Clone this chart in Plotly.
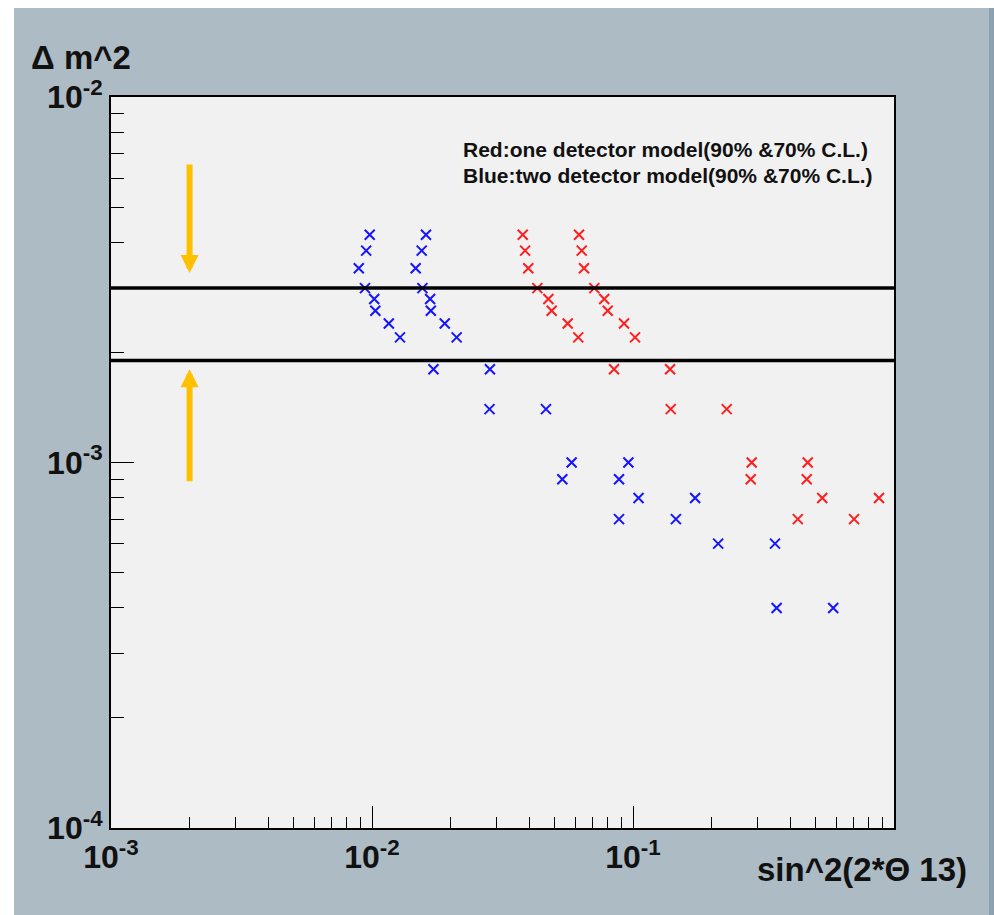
import math
import plotly.graph_objects as go

# Delta m^2 levels (eV^2) at which the sensitivity limits were evaluated
blue_dm2 = [4.2e-3, 3.8e-3, 3.4e-3, 3.0e-3, 2.8e-3, 2.6e-3, 2.4e-3, 2.2e-3,
            1.8e-3, 1.4e-3, 1.0e-3, 9e-4, 8e-4, 7e-4, 6e-4, 4e-4]
# two detector model: sin^2(2 theta13) limits, 70% and 90% C.L.
blue_70 = [9.8e-3, 9.5e-3, 8.9e-3, 9.4e-3, 1.02e-2, 1.03e-2, 1.16e-2, 1.28e-2,
           1.72e-2, 2.82e-2, 5.82e-2, 5.36e-2, 0.105, 8.84e-2, 0.212, 0.355]
blue_90 = [1.61e-2, 1.55e-2, 1.47e-2, 1.56e-2, 1.67e-2, 1.68e-2, 1.90e-2, 2.11e-2,
           2.83e-2, 4.64e-2, 9.6e-2, 8.84e-2, 0.173, 0.146, 0.350, 0.585]

red_dm2 = [4.2e-3, 3.8e-3, 3.4e-3, 3.0e-3, 2.8e-3, 2.6e-3, 2.4e-3, 2.2e-3,
           1.8e-3, 1.4e-3, 1.0e-3, 9e-4, 8e-4, 7e-4]
# one detector model: sin^2(2 theta13) limits, 70% and 90% C.L.
red_70 = [3.78e-2, 3.86e-2, 3.97e-2, 4.30e-2, 4.74e-2, 4.88e-2, 5.62e-2, 6.17e-2,
          8.46e-2, 0.1395, 0.285, 0.2825, 0.531, 0.428]
red_90 = [6.21e-2, 6.36e-2, 6.49e-2, 7.11e-2, 7.76e-2, 8.0e-2, 9.24e-2, 0.1018,
          0.1387, 0.2286, 0.467, 0.463, 0.876, 0.703]

# allowed Delta m^2 band edges
band_edges = [3.0e-3, 1.9e-3]
band_x = [1.0e-3, 1.0]

# arrows pointing into the band: (tail, tip) at a fixed x
arrow_x = 2.0e-3
arrows = [(6.6e-3, 3.3e-3), (8.8e-4, 1.8e-3)]

x_tick_vals = [1e-3, 1e-2, 1e-1]
x_tick_text = ["10<sup>-3</sup>", "10<sup>-2</sup>", "10<sup>-1</sup>"]
y_tick_vals = [1e-4, 1e-3, 1e-2]
y_tick_text = ["10<sup>-4</sup>", "10<sup>-3</sup>", "10<sup>-2</sup>"]

legend_lines = ["Red:one detector model(90% &70% C.L.)",
                "Blue:two detector model(90% &70% C.L.)"]

W, H = 994, 915
ML, MR, MT, MB = 111, 100, 97, 87
PW, PH = W - ML - MR, H - MT - MB

FONT = "Liberation Sans, Arial, Helvetica, sans-serif"
PANEL = "#adbbc5"
PLOTBG = "#f1f1f1"
TEXT = "#111111"


def paper_x(px):
    return (px - ML) / PW


def paper_y(py):
    return (H - MB - py) / PH


minor_x = [m * 10 ** e for e in (-3, -2, -1) for m in range(2, 10)]
minor_y = [m * 10 ** e for e in (-4, -3) for m in range(2, 10)]

fig = go.Figure()

marker_sets = [
    (blue_70, blue_dm2, "rgb(20,20,255)"),
    (blue_90, blue_dm2, "rgb(20,20,255)"),
    (red_70, red_dm2, "rgb(255,30,30)"),
    (red_90, red_dm2, "rgb(255,30,30)"),
]
for xs, ys, col in marker_sets:
    fig.add_trace(go.Scatter(
        x=xs, y=ys, mode="markers", showlegend=False,
        marker=dict(symbol="x-thin", size=10, color=col,
                    line=dict(width=2, color=col)),
    ))

for v in band_edges:
    fig.add_trace(go.Scatter(
        x=band_x, y=[v, v], mode="lines", showlegend=False,
        line=dict(color="black", width=3.5),
    ))

for tail, tip in arrows:
    fig.add_annotation(
        x=math.log10(arrow_x), y=math.log10(tip),
        ax=math.log10(arrow_x), ay=math.log10(tail),
        xref="x", yref="y", axref="x", ayref="y",
        text="", showarrow=True, arrowhead=2, arrowsize=0.6,
        arrowwidth=6, arrowcolor="#ffc000", standoff=0,
    )

for i, line in enumerate(legend_lines):
    fig.add_annotation(
        x=paper_x(461), y=paper_y(149 + 26.5 * i), xref="paper", yref="paper",
        xanchor="left", yanchor="middle", showarrow=False, text=line,
        font=dict(family=FONT, size=21, color=TEXT, weight="bold"),
    )

fig.add_annotation(
    x=paper_x(29), y=paper_y(58), xref="paper", yref="paper",
    xanchor="left", yanchor="middle", showarrow=False, text="Δ m^2",
    font=dict(family=FONT, size=33, color=TEXT, weight="bold"),
)
fig.add_annotation(
    x=paper_x(969), y=paper_y(869), xref="paper", yref="paper",
    xanchor="right", yanchor="middle", showarrow=False, text="sin^2(2*Θ 13)",
    font=dict(family=FONT, size=33, color=TEXT, weight="bold"),
)

# outer window decoration
deco = [
    (0, 0, 14, H, "white"),
    (0, 0, W, 8, "white"),
    (989, 8, W, H, "#8ca0b0"),
]
for x0, y0, x1, y1, col in deco:
    fig.add_shape(type="rect", xref="paper", yref="paper",
                  x0=paper_x(x0), x1=paper_x(x1), y0=paper_y(y1), y1=paper_y(y0),
                  fillcolor=col, line=dict(width=0), layer="above")

axis_common = dict(
    type="log", showline=True, mirror=True, linecolor="black", linewidth=2,
    ticks="inside", tickwidth=1, tickcolor="black", tickmode="array",
    showgrid=False, zeroline=False,
    tickfont=dict(family=FONT, size=32, color=TEXT, weight="bold"),
)

fig.update_xaxes(
    range=[-3, 0], tickvals=x_tick_vals, ticktext=x_tick_text, ticklen=22,
    minor=dict(ticks="inside", ticklen=11, tickwidth=1, tickcolor="black",
               tickmode="array", tickvals=minor_x, showgrid=False),
    **axis_common,
)
fig.update_yaxes(
    range=[-4, -2], tickvals=y_tick_vals, ticktext=y_tick_text, ticklen=23,
    minor=dict(ticks="inside", ticklen=13, tickwidth=1, tickcolor="black",
               tickmode="array", tickvals=minor_y, showgrid=False),
    **axis_common,
)

fig.update_layout(
    width=W, height=H,
    margin=dict(l=ML, r=MR, t=MT, b=MB, pad=0),
    paper_bgcolor=PANEL, plot_bgcolor=PLOTBG,
    showlegend=False,
)

fig.write_html("out.html")
